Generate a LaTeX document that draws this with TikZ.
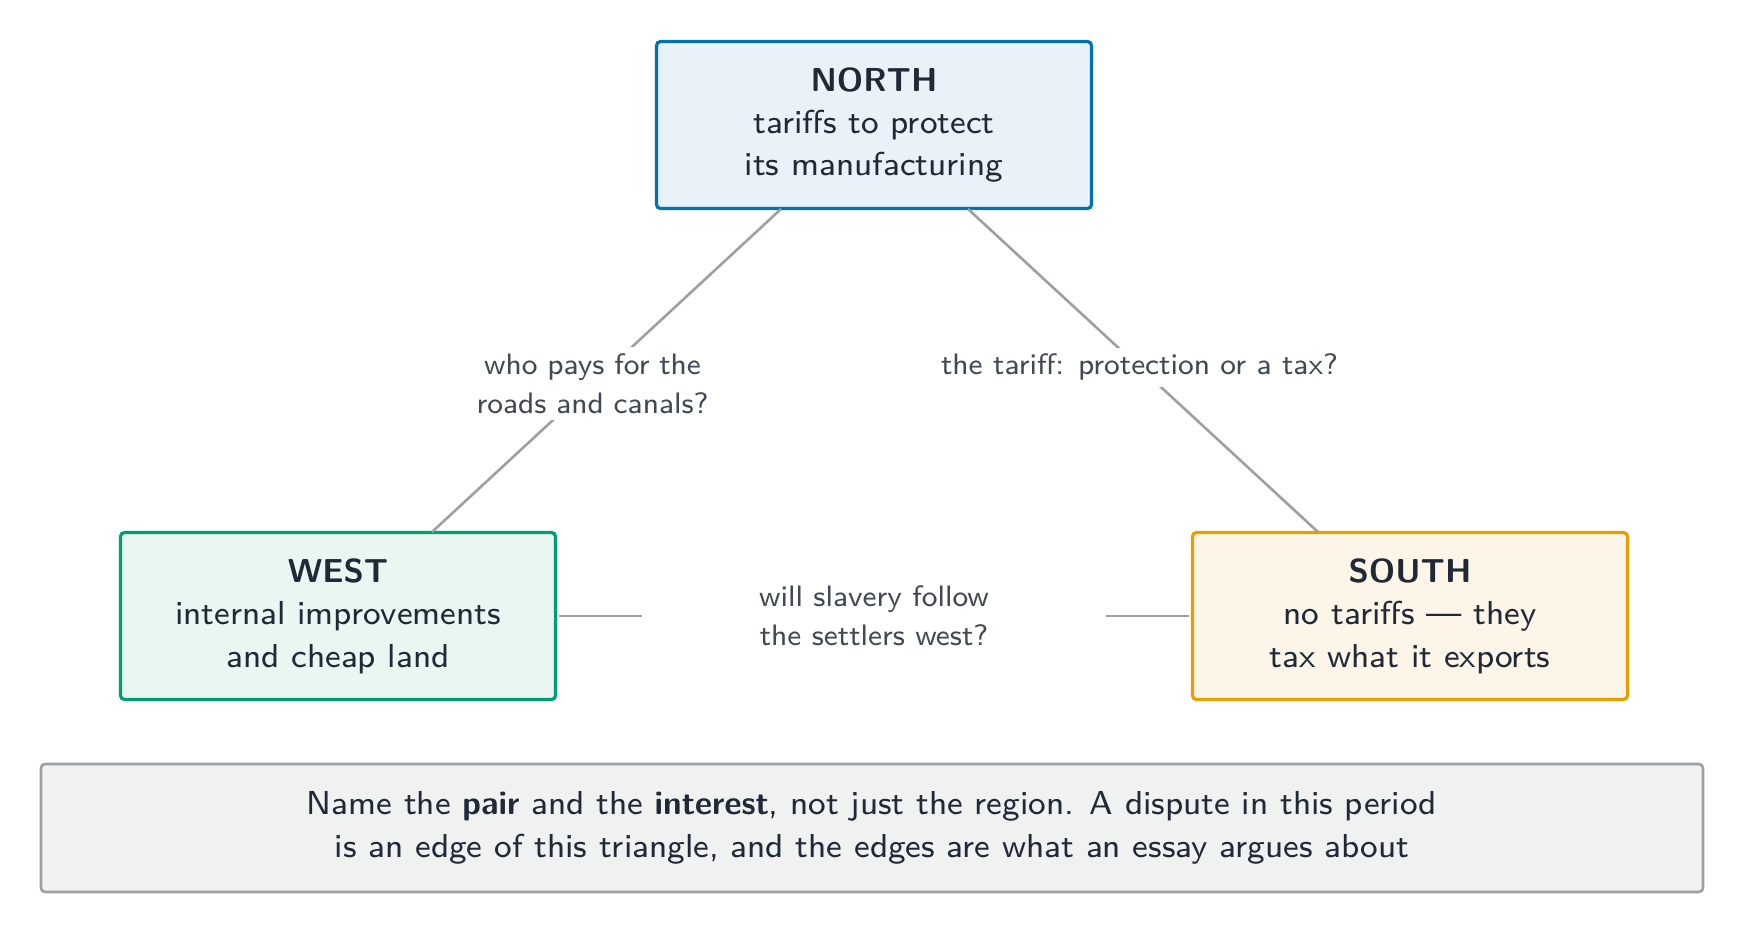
\documentclass[tikz,border=0pt]{standalone}
\renewcommand{\familydefault}{\sfdefault}
\begin{document}
\begin{tikzpicture}[x=0.5pt,y=-0.5pt,
  every node/.style={text=txt,font=\fontsize{8.3}{10.6}\selectfont,align=center,scale=2,transform shape},
  box/.style={draw,line width=1.6pt,rounded corners=2pt,minimum width=108.75pt,minimum height=41.75pt,inner sep=0pt},
  edge/.style={draw=gry,line width=1.3pt},
  lab/.style={fill=white,text=txt!85,inner sep=1.5pt,font=\fontsize{7.4}{9.8}\selectfont}]
\definecolor{txt}{HTML}{1F2937}
\definecolor{gry}{HTML}{9CA0A6}
\useasboundingbox (0,0) rectangle (1741,934);
\node[box,draw={rgb,255:red,0;green,114;blue,178},fill={rgb,255:red,234;green,242;blue,249}] (n) at (874,125) {\textbf{NORTH}\\tariffs to protect\\its manufacturing};
\node[box,draw={rgb,255:red,0;green,158;blue,115},fill={rgb,255:red,234;green,246;blue,241}] (w) at (338,616) {\textbf{WEST}\\internal improvements\\and cheap land};
\node[box,draw={rgb,255:red,230;green,159;blue,0},fill={rgb,255:red,253;green,245;blue,231}] (s) at (1410,616) {\textbf{SOUTH}\\no tariffs --- they\\tax what it exports};
\coordinate (n1) at (781,209); \coordinate (w1) at (432,532);
\coordinate (n2) at (968,209); \coordinate (s1) at (1318,532);
\draw[edge] (n1) -- (w1) node[lab,pos=0.54,text width=64pt] {who pays for the\\roads and canals?};
\draw[edge] (n2) -- (s1) node[lab,pos=0.49] {the tariff: protection or a tax?};
\draw[edge] (w.east) -- (s.west) node[lab,midway,minimum width=116pt,minimum height=20pt] {will slavery follow\\the settlers west?};
\node[draw=gry,line width=1.3pt,rounded corners=2pt,fill={rgb,255:red,240;green,242;blue,242},minimum width=415.5pt,minimum height=32pt] (b) at (872,828) {Name the \textbf{pair} and the \textbf{interest}, not just the region. A dispute in this period\\is an edge of this triangle, and the edges are what an essay argues about};
\end{tikzpicture}
\end{document}
